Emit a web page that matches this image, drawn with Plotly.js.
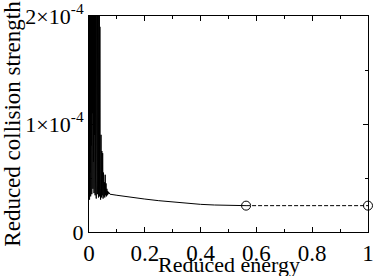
<!DOCTYPE html>
<html>
<head>
<meta charset="utf-8">
<script src="https://cdn.plot.ly/plotly-3.0.1.min.js"></script>
<style>html,body{margin:0;padding:0;background:#fff;}#chart{width:374px;height:276px;}</style>
</head>
<body>
<div id="chart"></div>
<script>
// Reduced energy (x) and reduced collision strength (y), solid computed curve
var energy = [
  0.000,0.001,0.002,0.003,0.004,0.005,0.006,0.007,0.008,0.009,
  0.010,0.011,0.012,0.013,0.014,0.015,0.016,0.017,0.018,0.019,
  0.020,0.021,0.022,0.023,0.024,0.025,0.026,0.027,0.028,0.029,
  0.030,0.031,0.032,0.033,0.034,0.035,0.036,0.037,0.038,0.039,
  0.040,0.0415,0.043,0.0445,0.046,0.0475,0.049,0.0505,0.052,0.0535,
  0.055,0.0565,0.058,0.0595,0.061,0.0625,0.064,0.0655,0.067,0.0685,
  0.070,0.072,0.075,0.10,0.15,0.20,0.25,0.30,0.35,0.40,
  0.45,0.50,0.563
];
var strength = [
  3.2e-5,4.5e-4,3.0e-5,3.8e-4,5.5e-5,5.0e-4,3.3e-5,2.9e-4,8.0e-5,6.0e-4,
  3.5e-5,3.5e-4,1.1e-4,4.2e-4,4.0e-5,2.6e-4,6.5e-5,5.2e-4,3.6e-5,3.1e-4,
  9.0e-5,4.8e-4,3.4e-5,2.7e-4,5.0e-5,3.9e-4,3.1e-5,4.4e-4,1.0e-4,2.5e-4,
  3.5e-5,3.6e-4,6.0e-5,2.3e-4,3.2e-5,2.8e-4,4.5e-5,2.2e-4,3.3e-5,1.9e-4,
  4.0e-5,3.0e-5,9.0e-5,3.2e-5,7.5e-5,3.4e-5,7.3e-5,3.1e-5,5.5e-5,3.3e-5,
  4.6e-5,3.2e-5,5.3e-5,3.4e-5,4.5e-5,3.3e-5,4.0e-5,3.4e-5,3.8e-5,3.5e-5,
  3.7e-5,3.55e-5,3.5e-5,3.4e-5,3.2e-5,3.05e-5,2.9e-5,2.78e-5,2.66e-5,2.56e-5,
  2.5e-5,2.46e-5,2.44e-5
];
// Extrapolated (dashed) segment with open circle end points
var extrapEnergy = [0.563, 1.0];
var extrapStrength = [2.44e-5, 2.44e-5];

var xTickVals = [0, 0.2, 0.4, 0.6, 0.8, 1];
var xTickText = ['0', '0.2', '0.4', '0.6', '0.8', '1'];
var yTickVals = [0, 1e-4, 2e-4];
var yTickText = ['0', '1×10<sup>-4</sup>', '2×10<sup>-4</sup>'];

var font = 'Liberation Serif, Times New Roman, serif';

var traces = [
  {x: energy, y: strength, type: 'scatter', mode: 'lines',
   line: {color: '#000', width: 1}, hoverinfo: 'none', cliponaxis: true},
  {x: extrapEnergy, y: extrapStrength, type: 'scatter', mode: 'lines+markers',
   line: {color: '#000', width: 1, dash: '4px,2px'},
   marker: {symbol: 'circle-open', size: 9, color: '#000', line: {width: 1, color: '#000'}},
   hoverinfo: 'none', cliponaxis: false}
];

var layout = {
  width: 374, height: 276,
  margin: {l: 89, r: 6, t: 16, b: 44},
  paper_bgcolor: '#fff', plot_bgcolor: '#fff',
  showlegend: false,
  font: {family: font, color: '#000', size: 22},
  xaxis: {
    range: [0, 1], showgrid: false, zeroline: false,
    showline: true, linecolor: '#000', linewidth: 1, mirror: 'ticks',
    ticks: 'inside', ticklen: 5, tickwidth: 1, tickcolor: '#000',
    tickvals: xTickVals, ticktext: xTickText, automargin: false,
    tickfont: {family: font, size: 23, color: '#000'},
    minor: {dtick: 0.1, ticks: 'inside', ticklen: 3, tickcolor: '#000', tickwidth: 1}
  },
  yaxis: {
    range: [0, 2e-4], showgrid: false, zeroline: false,
    showline: true, linecolor: '#000', linewidth: 1, mirror: 'ticks',
    ticks: 'inside', ticklen: 5, tickwidth: 1, tickcolor: '#000',
    tickvals: yTickVals, ticktext: yTickText, automargin: false,
    tickfont: {family: font, size: 22, color: '#000'},
    minor: {dtick: 0.5e-4, ticks: 'inside', ticklen: 3, tickcolor: '#000', tickwidth: 1},
    title: {text: 'Reduced collision strength', font: {family: font, size: 23, color: '#000'}, standoff: 0}
  },
  annotations: [
    {text: 'Reduced energy', xref: 'paper', yref: 'paper', x: 0.5, y: 0,
     yshift: -18, xanchor: 'center', yanchor: 'top', showarrow: false,
     font: {family: font, size: 22, color: '#000'}}
  ]
};

Plotly.newPlot('chart', traces, layout, {staticPlot: true, displayModeBar: false});
</script>
</body>
</html>
